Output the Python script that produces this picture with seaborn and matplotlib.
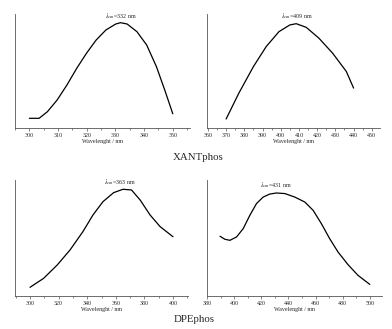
import numpy as np
import pandas as pd
import seaborn as sns
import matplotlib.pyplot as plt
from matplotlib.ticker import MultipleLocator

# values (relative intensity, 0 = x-axis, 1 = top of y-axis)
xant1_wl = [300, 303.4, 306.3, 309.7, 313.1, 316.5, 319.9, 323.3, 326.7, 330.1, 331.8, 334.1,
            337.5, 340.9, 344.3, 347.2, 350]
xant1_int = [0.085, 0.085, 0.143, 0.246, 0.377, 0.523, 0.655, 0.772, 0.860, 0.912, 0.924, 0.912,
             0.845, 0.728, 0.538, 0.333, 0.125]

xant2_wl = [370, 377, 385, 392, 399, 405, 408.5, 414, 421, 428.5, 436, 440]
xant2_int = [0.079, 0.306, 0.539, 0.714, 0.845, 0.904, 0.915, 0.883, 0.787, 0.656, 0.496, 0.350]

dpe1_wl = [300, 309.5, 319, 328, 337, 344, 351, 358.5, 365, 371, 377, 384, 391, 400]
dpe1_int = [0.075, 0.152, 0.267, 0.397, 0.555, 0.698, 0.813, 0.891, 0.920, 0.914, 0.828, 0.698, 0.598, 0.511]

dpe2_wl = [389.6, 393.2, 396.9, 401.8, 406.7, 411.6, 416.5, 421.4, 426.3, 431.2, 437.4, 444.7,
           452.1, 458.2, 464.3, 470.4, 476.6, 483.9, 491.3, 500]
dpe2_int = [0.515, 0.489, 0.480, 0.509, 0.581, 0.696, 0.797, 0.853, 0.879, 0.888, 0.883, 0.853,
            0.810, 0.739, 0.624, 0.495, 0.379, 0.271, 0.178, 0.100]

peaks = [332, 409, 363, 431]
xlims = [(295, 356), (359.5, 454.5), (289.5, 410.5), (380, 509)]
major = [10, 10, 20, 20]
minor = [5, 5, 10, 10]

sns.set_style('ticks')
plt.rcParams['font.family'] = ['Liberation Serif', 'DejaVu Serif']
plt.rcParams['mathtext.fontset'] = 'stix'

fig = plt.figure(figsize=(3.92, 3.29), dpi=100)
boxes = [(15, 14, 190, 128), (207, 14, 380, 128), (15, 180, 188, 296), (207, 180, 382, 296)]
data = [(xant1_wl, xant1_int), (xant2_wl, xant2_int), (dpe1_wl, dpe1_int), (dpe2_wl, dpe2_int)]
ann_y = [0.985, 0.985, 0.985, 0.955]

for i, (l, t, r, b) in enumerate(boxes):
    ax = fig.add_axes([l / 392, (329 - b) / 329, (r - l) / 392, (b - t) / 329])
    df = pd.DataFrame({'wl': data[i][0], 'int': data[i][1]})
    sns.lineplot(data=df, x='wl', y='int', ax=ax, color='black', linewidth=0.9)
    ax.set_xlim(*xlims[i])
    ax.set_ylim(0, 1)
    ax.set_yticks([])
    ax.xaxis.set_major_locator(MultipleLocator(major[i]))
    ax.xaxis.set_minor_locator(MultipleLocator(minor[i]))
    ax.tick_params(axis='x', which='major', length=2, width=0.5, labelsize=4.3, pad=1.5, color='#555555')
    ax.tick_params(axis='x', which='minor', length=1.2, width=0.5, color='#555555')
    for s in ['top', 'right']:
        ax.spines[s].set_visible(False)
    for s in ['left', 'bottom']:
        ax.spines[s].set_linewidth(0.6)
        ax.spines[s].set_color('#555555')
    ax.set_xlabel('Wavelenght / nm', fontsize=4.3, labelpad=1.0)
    ax.set_ylabel('')
    ax.text(peaks[i], ann_y[i], r'$\lambda_{\rm em}$=%d nm' % peaks[i], fontsize=4.3,
            ha='center', va='center', transform=ax.get_xaxis_transform())

fig.text(198 / 392, 1 - 157 / 329, 'XANTphos', fontsize=7.8, ha='center', va='center')
fig.text(194 / 392, 1 - 319 / 329, 'DPEphos', fontsize=7.8, ha='center', va='center')

fig.savefig('out.png', dpi=100)
